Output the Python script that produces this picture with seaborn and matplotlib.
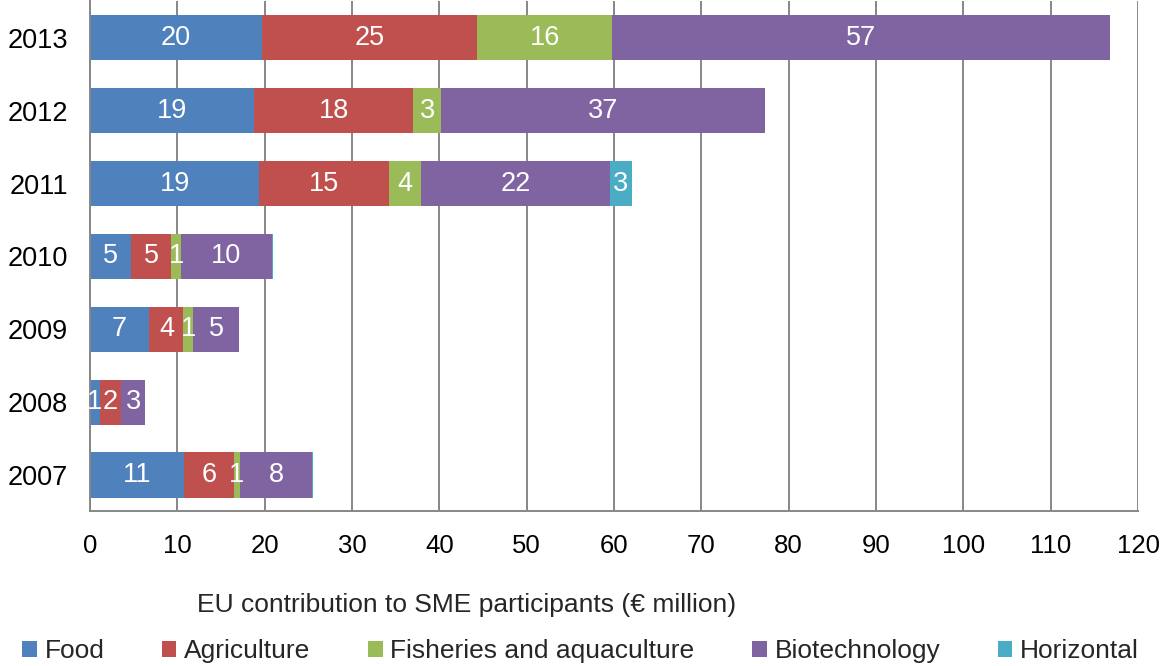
import numpy as np
import pandas as pd
import seaborn as sns
import matplotlib.pyplot as plt
from matplotlib.patches import Patch

# data (EU contribution, EUR million)
years = ["2013", "2012", "2011", "2010", "2009", "2008", "2007"]
food = [19.7, 18.8, 19.4, 4.7, 6.8, 1.1, 10.8]
agriculture = [24.6, 18.2, 14.8, 4.6, 3.9, 2.4, 5.7]
fisheries = [15.5, 3.2, 3.7, 1.1, 1.1, 0.1, 0.65]
biotechnology = [57.0, 37.1, 21.6, 10.4, 5.3, 2.7, 8.3]
horizontal = [0.0, 0.0, 2.6, 0.2, 0.0, 0.0, 0.1]

series_names = ["Food", "Agriculture", "Fisheries and aquaculture", "Biotechnology", "Horizontal"]
series_colors = ["#4F81BD", "#C0504D", "#9BBB59", "#8064A2", "#4BACC6"]
x_ticks = list(range(0, 130, 10))

df = pd.DataFrame({"year": years, "Food": food, "Agriculture": agriculture,
                   "Fisheries and aquaculture": fisheries, "Biotechnology": biotechnology,
                   "Horizontal": horizontal})
cum = df[series_names].cumsum(axis=1)

sns.set_style("white")
plt.rcParams["font.family"] = ["Liberation Sans", "DejaVu Sans"]

grey = "#878787"
fig = plt.figure(figsize=(11.61, 6.66), dpi=100)
ax = fig.add_axes([0.0775, 0.232, 0.9027, 0.7658])

# stacked bars: draw cumulative totals from the last series back to the first
for name, color in reversed(list(zip(series_names, series_colors))):
    sns.barplot(x=cum[name], y=df["year"], order=years, orient="h", color=color,
                saturation=1, width=0.62, linewidth=0, ax=ax)

# white value labels in the middle of each segment
for i, year in enumerate(years):
    left = 0
    for name in series_names:
        v = df.loc[i, name]
        if v >= 0.5:
            ax.text(left + v / 2, i, f"{int(v + 0.5)}", color="white", fontsize=19.5,
                    ha="center", va="center")
        left += v

ax.set_xlim(0, 120)
ax.set_xticks(x_ticks)
ax.set_ylim(6.5, -0.5)
ax.set_ylabel("")
ax.set_xlabel("EU contribution to SME participants (\u20ac million)", fontsize=19, va="center")
ax.xaxis.set_label_coords(0.359, -0.183)

ax.grid(axis="x", color=grey, linewidth=1.4)
ax.grid(axis="y", visible=False)
ax.set_axisbelow(True)
for side in ["top", "right"]:
    ax.spines[side].set_visible(False)
for side in ["left", "bottom"]:
    ax.spines[side].set_color(grey)
    ax.spines[side].set_linewidth(1.4)

ax.tick_params(axis="x", direction="out", length=5, width=1.4, color=grey, pad=11,
               labelsize=18.5, labelcolor="black")
ax.tick_params(axis="y", which="major", length=0, pad=16, labelsize=19.5, labelcolor="black")
ax.set_yticks(np.arange(-0.5, 7, 1), minor=True)
ax.tick_params(axis="y", which="minor", direction="out", length=6, width=1.4, color=grey)

handles = [Patch(facecolor=c, edgecolor="none") for c in series_colors]
fig.legend(handles, series_names, loc="center left", bbox_to_anchor=(22 / 1161, 1 - 651 / 666),
           ncol=5, frameon=False, fontsize=19, handlelength=0.55, handleheight=0.55,
           handletextpad=0.3, columnspacing=2.18, borderpad=0, borderaxespad=0)

fig.savefig("out.png", dpi=100)
